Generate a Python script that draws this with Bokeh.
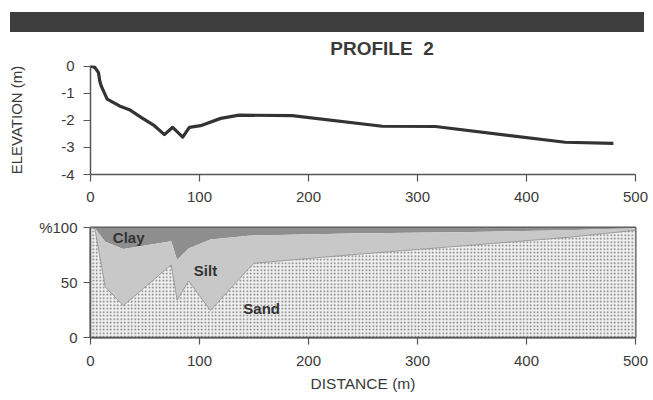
import numpy as np
from bokeh.plotting import figure
from bokeh.layouts import column
from bokeh.models import FixedTicker, Label, ColumnDataSource, Div
from bokeh.embed import file_html
from bokeh.resources import INLINE

# ---- data: elevation profile ----
prof_dist = [0, 4, 7.3, 8.5, 9.8, 15.3, 26.6, 35.7, 46.4, 58.6, 67.8, 75.4, 84.6,
             90.7, 101, 119.5, 136.3, 185, 267.6, 316.4, 435.4, 479.7]
prof_elev = [0, -0.05, -0.24, -0.55, -0.73, -1.22, -1.47, -1.61, -1.89, -2.2, -2.53,
             -2.26, -2.62, -2.26, -2.2, -1.93, -1.81, -1.83, -2.22, -2.23, -2.81, -2.85]

# ---- data: grain size composition (%) ----
comp_dist = [0, 4, 13.5, 30, 74, 79.5, 90, 110, 145, 150, 237, 350, 438, 500]
sand_pct = [100, 99, 46, 29, 66, 34, 51.5, 24.5, 62.5, 67.5, 75, 84, 91, 97.5]
silt_pct = [0, 0.5, 41, 51.5, 21.5, 36.5, 29.5, 64.5, 30, 25.2, 19.5, 12, 6.5, 2]
clay_pct = [0, 0.5, 13, 19.5, 12.5, 29.5, 19, 11, 7.5, 7.3, 5.5, 4, 2.5, 0.5]

x_ticks = [0, 100, 200, 300, 400, 500]
elev_ticks = [-4, -3, -2, -1, 0]
pct_ticks = [0, 50, 100]
pct_labels = {0: "0", 50: "50", 100: "%100"}
title_text = "PROFILE&nbsp;&nbsp;2"

FONT = "Liberation Sans"
TXT = "#3a3a3a"
AX = "#555555"

# ---- header: dark bar and title ----
header_html = (
    '<div style="position:relative;width:653px;height:58px;margin:0;padding:0;">'
    '<div style="position:absolute;left:10px;top:12px;width:634px;height:20px;'
    'background:#3e3e3e;"></div>'
    '<div style="position:absolute;left:282px;width:200px;top:38px;text-align:center;'
    "font-family:'Liberation Sans';font-weight:bold;font-size:19px;line-height:22px;"
    f'color:{TXT};">{title_text}</div>'
    '</div>'
)
hdr = Div(text=header_html, width=653, height=58, margin=(0, 0, 0, 0))


def style_axes(p):
    p.grid.visible = False
    for ax in p.axis:
        ax.axis_line_color = AX
        ax.axis_line_width = 1.5
        ax.major_tick_line_color = AX
        ax.major_tick_line_width = 1.2
        ax.major_tick_in = 0
        ax.major_tick_out = 7
        ax.minor_tick_line_color = None
        ax.major_label_text_font = FONT
        ax.major_label_text_font_size = "15px"
        ax.major_label_text_color = TXT
        ax.axis_label_text_font = FONT
        ax.axis_label_text_font_style = "normal"
        ax.axis_label_text_color = TXT


# ---- top: elevation profile ----
top = figure(width=653, height=147, x_range=(0, 500), y_range=(-4, 0.02),
             output_backend="svg", toolbar_location=None,
             min_border_left=90, min_border_right=18, min_border_top=7, min_border_bottom=31)
top.outline_line_color = None
top.line(prof_dist, prof_elev, line_color="#333333", line_width=3.2, line_join="round")
style_axes(top)
top.xaxis.ticker = FixedTicker(ticks=x_ticks)
top.yaxis.ticker = FixedTicker(ticks=elev_ticks)
top.yaxis.major_label_overrides = {t: str(t) for t in elev_ticks}
top.yaxis.axis_label = "ELEVATION (m)"
top.yaxis.axis_label_text_font_size = "15px"
top.yaxis.axis_label_standoff = 33
top.yaxis.major_label_standoff = 9
top.xaxis.major_label_standoff = 10

# ---- bottom: composition ----
bot = figure(width=653, height=195, x_range=(0, 500), y_range=(0, 100),
             output_backend="svg", toolbar_location=None,
             min_border_left=90, min_border_right=18, min_border_top=22, min_border_bottom=63)
bot.outline_line_color = AX
bot.outline_line_width = 2

sand = np.array(sand_pct)
silt_top = sand + np.array(silt_pct)
clay_top = silt_top + np.array(clay_pct)
src = ColumnDataSource(dict(x=comp_dist, s0=np.zeros(len(sand)), s1=sand,
                            t1=silt_top, c1=clay_top))
bot.varea(x="x", y1="t1", y2="c1", source=src, fill_color="#8e8e8e")
bot.varea(x="x", y1="s1", y2="t1", source=src, fill_color="#c8c8c8")
bot.varea(x="x", y1="s0", y2="s1", source=src, fill_color="#f0f0f0",
          hatch_pattern="dot", hatch_color="#5a5a5a", hatch_scale=3.5,
          hatch_weight=0.7, hatch_alpha=0.85)
bot.line(x="x", y="s1", source=src, line_color="#8a8a8a", line_width=0.8)

for txt, lx, ly in [("Clay", 35, 91), ("Silt", 105.5, 60.5), ("Sand", 157, 26)]:
    bot.add_layout(Label(x=lx, y=ly, text=txt, text_font=FONT, text_font_size="15px",
                         text_font_style="bold", text_color="#333333",
                         text_align="center", text_baseline="middle"))

style_axes(bot)
bot.xaxis.ticker = FixedTicker(ticks=x_ticks)
bot.yaxis.ticker = FixedTicker(ticks=pct_ticks)
bot.yaxis.major_label_overrides = pct_labels
bot.yaxis.major_label_standoff = 6
bot.xaxis.major_label_standoff = 11
bot.xaxis.axis_label = "DISTANCE (m)"
bot.xaxis.axis_label_text_font_size = "15.5px"
bot.xaxis.axis_label_standoff = 6

layout = column(hdr, top, bot, spacing=0)
open("out.html", "w").write(file_html(layout, INLINE))
